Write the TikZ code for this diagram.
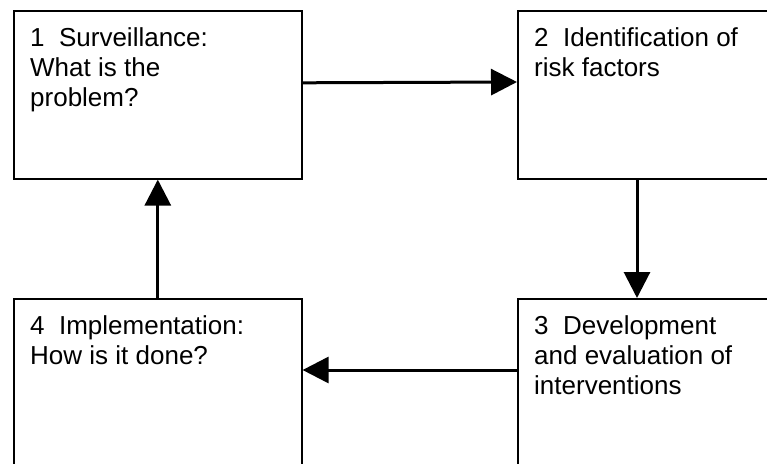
\documentclass[tikz,border=0pt]{standalone}
\usepackage{fontspec}
\setmainfont{Liberation Sans}
\usetikzlibrary{arrows.meta}

\tikzset{
	stage/.style={draw, line width=1.6pt, anchor=north west, inner sep=0pt,
		minimum width=288pt, minimum height=168pt},
	stagetext/.style={anchor=north west, inner sep=0pt, align=left,
		font=\fontsize{26}{30}\selectfont},
	flow/.style={line width=3pt, -{Triangle[length=26pt,width=26pt]}}
}

\begin{document}
\begin{tikzpicture}[x=1pt,y=-1pt]
	\useasboundingbox (0,0) rectangle (767,463);
	\clip (0,0) rectangle (767,463);

	\node[stage] (surv) at (13,10) {};
	\node[stage] (risk) at (517,10) {};
	\node[stage] (dev) at (517,298) {};
	\node[stage] (impl) at (13,298) {};

	\node[stagetext] (survtext) at (30,27) {1~~Surveillance:\\What is the\\problem?};
	\node[stagetext] (risktext) at (534,27) {2~~Identification of\\risk factors};
	\node[stagetext] (devtext) at (534,315) {3~~Development\\and evaluation of\\interventions};
	\node[stagetext] (impltext) at (30,315) {4~~Implementation:\\How is it done?};

	\draw[flow] ([yshift=12pt]surv.east) -- ([yshift=-72pt]risk.north west);
	\draw[flow] ([xshift=120pt]risk.south west) -- ([xshift=120pt]dev.north west);
	\draw[flow] ([yshift=-72pt]dev.north west) -- ([yshift=-72pt]impl.north east);
	\draw[flow] (impl.north) -- (surv.south);
\end{tikzpicture}
\end{document}
